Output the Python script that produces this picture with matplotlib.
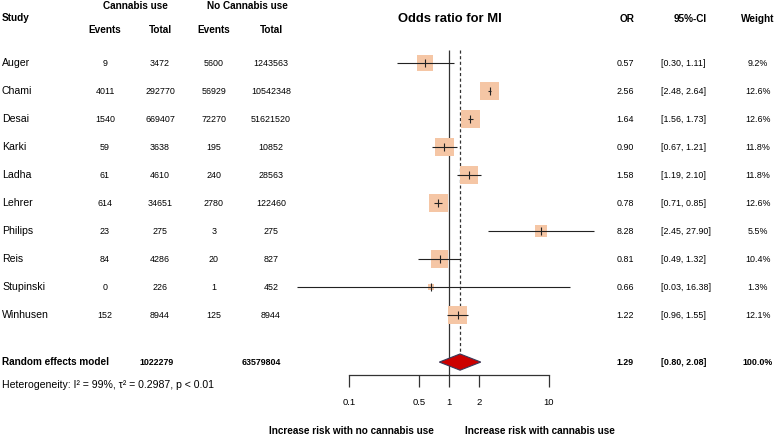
import matplotlib
matplotlib.use('Agg')
import matplotlib.pyplot as plt
from matplotlib.patches import Polygon

plt.rcParams['font.family'] = ['Liberation Sans', 'DejaVu Sans']

studies = ['Auger', 'Chami', 'Desai', 'Karki', 'Ladha', 'Lehrer', 'Philips', 'Reis', 'Stupinski', 'Winhusen']
events_cannabis = [9, 4011, 1540, 59, 61, 614, 23, 84, 0, 152]
total_cannabis = [3472, 292770, 669407, 3638, 4610, 34651, 275, 4286, 226, 8944]
events_none = [5600, 56929, 72270, 195, 240, 2780, 3, 20, 1, 125]
total_none = [1243563, 10542348, 51621520, 10852, 28563, 122460, 275, 827, 452, 8944]
odds_ratio = [0.57, 2.56, 1.64, 0.90, 1.58, 0.78, 8.28, 0.81, 0.66, 1.22]
ci_low = [0.30, 2.48, 1.56, 0.67, 1.19, 0.71, 2.45, 0.49, 0.03, 0.96]
ci_high = [1.11, 2.64, 1.73, 1.21, 2.10, 0.85, 27.90, 1.32, 16.38, 1.55]
weights = [9.2, 12.6, 12.6, 11.8, 11.8, 12.6, 5.5, 10.4, 1.3, 12.1]

pooled_total_cannabis = 1022279
pooled_total_none = 63579804
pooled_or = 1.29
pooled_low = 0.80
pooled_high = 2.08
heterogeneity = 'Heterogeneity: I² = 99%, τ² = 0.2987, p < 0.01'

tick_values = [0.1, 0.5, 1, 2, 10]
tick_labels = ['0.1', '0.5', '1', '2', '10']

W, H = 776, 436
fig = plt.figure(figsize=(W / 100, H / 100), dpi=100)
ax = fig.add_axes([0, 0, 1, 1])
ax.set_xscale('log')
# 1 sits at pixel 449, one decade spans 100 px
ax.set_xlim(10 ** (-449 / 100), 10 ** ((W - 449) / 100))
ax.set_ylim(13.32, -2.25)
ax.axis('off')

tr = ax.get_yaxis_transform()  # x in figure fraction, y in rows


def px(x):
    return x / W


rows = list(range(len(studies)))
y_pool = 10.68
y_het = 11.5
y_axis = 11.14

square_color = '#F5C6A5'
small = 6.4
name_size = 7.6
head_size = 7.2

# reference lines
ax.vlines(1, -0.46, y_axis, color='#333333', lw=0.9)
ax.vlines(pooled_or, -0.46, y_pool - 0.29, color='#333333', lw=0.9, linestyles=(0, (2.5, 2)))

# squares sized by weight
sizes = [(5.3 * w ** 0.5 * 0.72) ** 2 for w in weights]
ax.scatter(odds_ratio, rows, s=sizes, marker='s', color=square_color, edgecolors='none', zorder=2)
ax.hlines(rows, ci_low, ci_high, color='#222222', lw=0.8, zorder=3)
ax.scatter(odds_ratio, rows, s=28, marker='|', color='#222222', linewidths=0.8, zorder=4)

# pooled diamond
diamond = Polygon([(pooled_low, y_pool), (pooled_or, y_pool - 0.29),
                   (pooled_high, y_pool), (pooled_or, y_pool + 0.29)],
                  closed=True, facecolor='#CC0000', edgecolor='#3A3A5A', lw=0.8, zorder=5)
ax.add_patch(diamond)

# x axis
ax.plot([tick_values[0], tick_values[-1]], [y_axis, y_axis], color='#333333', lw=0.9)
ax.vlines(tick_values, y_axis, y_axis + 0.43, color='#333333', lw=0.9)
for v, lab in zip(tick_values, tick_labels):
    ax.text(v, y_axis + 1.0, lab, ha='center', va='center', fontsize=6.8)

# headers
ax.text(px(2), -1.6, 'Study', transform=tr, ha='left', va='center', fontsize=head_size, fontweight='bold')
ax.text(px(135), -2.05, 'Cannabis use', transform=tr, ha='center', va='center', fontsize=head_size, fontweight='bold')
ax.text(px(247), -2.05, 'No Cannabis use', transform=tr, ha='center', va='center', fontsize=head_size, fontweight='bold')
for xc, lab in zip([105, 160, 214, 271], ['Events', 'Total', 'Events', 'Total']):
    ax.text(px(xc), -1.18, lab, transform=tr, ha='center', va='center', fontsize=head_size, fontweight='bold')
ax.text(px(450), -1.57, 'Odds ratio for MI', transform=tr, ha='center', va='center', fontsize=9.4, fontweight='bold')
ax.text(px(627), -1.57, 'OR', transform=tr, ha='center', va='center', fontsize=head_size, fontweight='bold')
ax.text(px(690), -1.57, '95%-CI', transform=tr, ha='center', va='center', fontsize=head_size, fontweight='bold')
ax.text(px(758), -1.57, 'Weight', transform=tr, ha='center', va='center', fontsize=head_size, fontweight='bold')

# study rows
for i in rows:
    ax.text(px(2), i, studies[i], transform=tr, ha='left', va='center', fontsize=name_size)
    ax.text(px(105), i, str(events_cannabis[i]), transform=tr, ha='center', va='center', fontsize=small)
    ax.text(px(160), i, str(total_cannabis[i]), transform=tr, ha='center', va='center', fontsize=small)
    ax.text(px(214), i, str(events_none[i]), transform=tr, ha='center', va='center', fontsize=small)
    ax.text(px(271), i, str(total_none[i]), transform=tr, ha='center', va='center', fontsize=small)
    ax.text(px(625), i, f'{odds_ratio[i]:.2f}', transform=tr, ha='center', va='center', fontsize=small)
    ax.text(px(661), i, f'[{ci_low[i]:.2f}, {ci_high[i]:.2f}]', transform=tr, ha='left', va='center', fontsize=small)
    ax.text(px(758), i, f'{weights[i]:.1f}%', transform=tr, ha='center', va='center', fontsize=small)

# pooled row
ax.text(px(2), y_pool, 'Random effects model', transform=tr, ha='left', va='center', fontsize=head_size, fontweight='bold')
ax.text(px(157), y_pool, str(pooled_total_cannabis), transform=tr, ha='center', va='center', fontsize=small, fontweight='bold')
ax.text(px(261), y_pool, str(pooled_total_none), transform=tr, ha='center', va='center', fontsize=small, fontweight='bold')
ax.text(px(625), y_pool, f'{pooled_or:.2f}', transform=tr, ha='center', va='center', fontsize=small, fontweight='bold')
ax.text(px(661), y_pool, f'[{pooled_low:.2f}, {pooled_high:.2f}]', transform=tr, ha='left', va='center', fontsize=small, fontweight='bold')
ax.text(px(758), y_pool, '100.0%', transform=tr, ha='center', va='center', fontsize=small, fontweight='bold')
ax.text(px(2), y_het, heterogeneity, transform=tr, ha='left', va='center', fontsize=name_size)

# direction labels
ax.text(px(351), 13.14, 'Increase risk with no cannabis use', transform=tr, ha='center', va='center', fontsize=head_size, fontweight='bold')
ax.text(px(540), 13.14, 'Increase risk with cannabis use', transform=tr, ha='center', va='center', fontsize=head_size, fontweight='bold')

fig.savefig('out.png', dpi=100, facecolor='white')
